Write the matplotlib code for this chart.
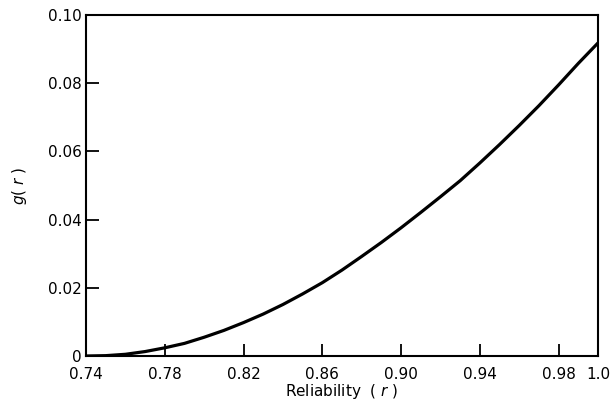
import matplotlib
matplotlib.use("Agg")
import matplotlib.pyplot as plt

# values
reliability = [0.74, 0.75, 0.76, 0.77, 0.78, 0.79, 0.80, 0.81, 0.82, 0.83,
               0.84, 0.85, 0.86, 0.87, 0.88, 0.89, 0.90, 0.91, 0.92, 0.93,
               0.94, 0.95, 0.96, 0.97, 0.98, 0.99, 1.00]
g_values = [0.0, 0.0001, 0.0005, 0.0013, 0.0024, 0.0037, 0.0055, 0.0075,
            0.0098, 0.0123, 0.0151, 0.0182, 0.0215, 0.0252, 0.0292, 0.0333,
            0.0376, 0.0421, 0.0467, 0.0514, 0.0566, 0.0620, 0.0676, 0.0734,
            0.0795, 0.0858, 0.0918]

x_ticks = [0.74, 0.78, 0.82, 0.86, 0.90, 0.94, 0.98, 1.0]
x_tick_labels = ["0.74", "0.78", "0.82", "0.86", "0.90", "0.94", "0.98", "1.0"]
y_ticks = [0, 0.02, 0.04, 0.06, 0.08, 0.10]
y_tick_labels = ["0", "0.02", "0.04", "0.06", "0.08", "0.10"]

plt.rcParams["font.family"] = "DejaVu Sans"
plt.rcParams["mathtext.fontset"] = "dejavusans"

fig = plt.figure(figsize=(6.11, 4.05), dpi=100)
ax = fig.add_axes([0.1408, 0.121, 0.8379, 0.842])

ax.plot(reliability, g_values, color="black", linewidth=2.3, solid_capstyle="butt")

ax.set_xlim(0.74, 1.0)
ax.set_ylim(0, 0.10)

ax.set_xticks(x_ticks)
ax.set_xticklabels(x_tick_labels)
ax.set_yticks(y_ticks)
ax.set_yticklabels(y_tick_labels)

ax.tick_params(direction="in", length=9, width=1.3, labelsize=11, colors="black")
ax.tick_params(axis="x", pad=8)
ax.tick_params(axis="y", pad=3)

for side in ax.spines.values():
    side.set_linewidth(1.5)

ax.set_xlabel(r"Reliability  ( $\mathit{r}$ )", fontsize=11, labelpad=0)
ax.set_ylabel(r"$\mathit{g}$( $\mathit{r}$ )", fontsize=11, labelpad=14)

fig.savefig("out.png", dpi=100)
